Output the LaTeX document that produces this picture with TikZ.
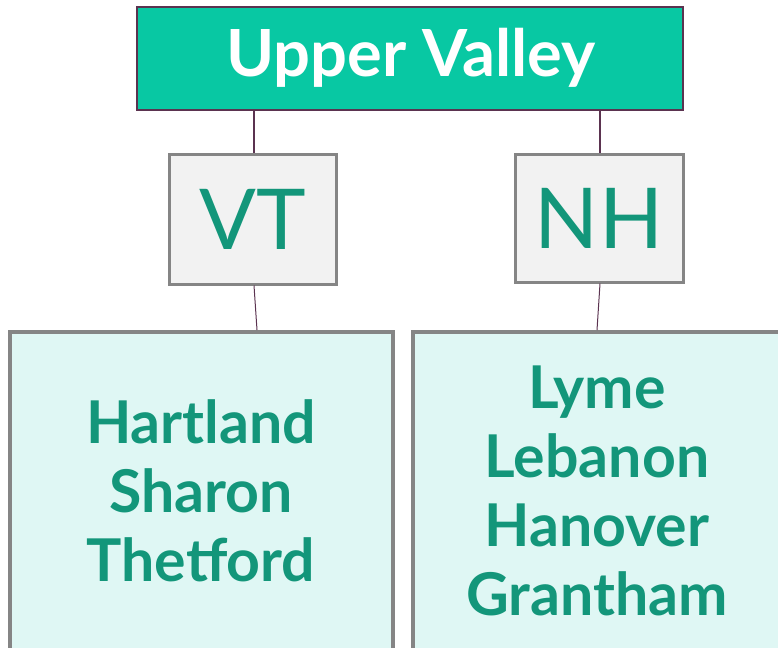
\documentclass[tikz,border=0pt]{standalone}
\usepackage{fontspec}
\setmainfont{Lato}
\definecolor{topfill}{HTML}{08C8A3}
\definecolor{topline}{HTML}{5B3350}
\definecolor{midfill}{HTML}{F2F2F2}
\definecolor{boxgray}{HTML}{858585}
\definecolor{lowfill}{HTML}{DFF7F4}
\definecolor{txt}{HTML}{13967A}
\tikzset{
  conn/.style={draw=topline, line width=1.6pt},
  topbox/.style={draw=topline, line width=1.6pt, fill=topfill},
  midbox/.style={draw=boxgray, line width=3pt, fill=midfill},
  lowbox/.style={draw=boxgray, line width=4pt, fill=lowfill},
  toptext/.style={text=white, font=\fontsize{65}{65}\selectfont\bfseries},
  midtext/.style={text=txt, font=\fontsize{84}{84}\selectfont},
  lowtext/.style={text=txt, align=center, font=\fontsize{59}{69}\selectfont\bfseries},
}
\begin{document}
\begin{tikzpicture}[x=1pt,y=-1pt]
\useasboundingbox (0,0) rectangle (778,647);
\begin{scope}
\clip (0,0) rectangle (778,647);
% boxes
\path[topbox] (137,7) rectangle (683,110);
\node[toptext] (top) at (411,57.5) {Upper Valley};
\path[midbox] (169,155) rectangle (336,284);
\node[midtext] (vt) at (252.5,219.5) {VT};
\path[midbox] (515,155) rectangle (683,282);
\node[midtext] (nh) at (599,218.5) {NH};
\path[lowbox] (10,332) rectangle (393,660);
\node[lowtext] (vtlist) at (201,491) {Hartland\\Sharon\\Thetford};
\path[lowbox] (413,332) rectangle (790,660);
\node[lowtext] (nhlist) at (597,491) {Lyme\\Lebanon\\Hanover\\Grantham};
% connectors
\coordinate (t1) at (254,110.8);
\coordinate (t2) at (600,110.8);
\coordinate (v1) at (254,153.5);
\coordinate (n1) at (600,153.5);
\coordinate (v2) at (254,285.5);
\coordinate (v3) at (257,330);
\coordinate (n2) at (600,283.5);
\coordinate (n3) at (597,330);
\draw[conn] (t1) -- (v1);
\draw[conn] (t2) -- (n1);
\draw[conn, line width=1pt] (v2) -- (v3);
\draw[conn, line width=1pt] (n2) -- (n3);
\end{scope}
\end{tikzpicture}
\end{document}
